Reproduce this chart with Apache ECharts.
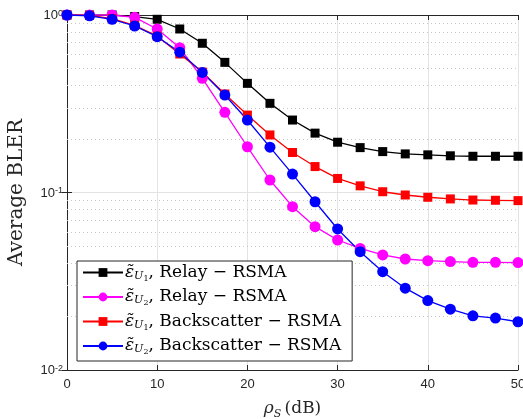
<!DOCTYPE html>
<html>
<head>
<meta charset="utf-8">
<script src="https://cdn.jsdelivr.net/npm/echarts@6/dist/echarts.min.js"></script>
<style>
  html, body { margin: 0; padding: 0; background: #fff; }
  #bler { width: 523px; height: 419px; }
</style>
</head>
<body>
<div id="bler"></div>
<script>
  // SNR points (dB)
  const rho = [0, 2.5, 5, 7.5, 10, 12.5, 15, 17.5, 20, 22.5, 25, 27.5, 30, 32.5, 35, 37.5, 40, 42.5, 45, 47.5, 50];

  // values
  const relayU1 = [1.0, 1.0, 1.0, 0.98, 0.946, 0.834, 0.693, 0.541, 0.412, 0.318, 0.256, 0.216, 0.192, 0.179, 0.170, 0.165, 0.163, 0.161, 0.160, 0.160, 0.160];
  const relayU2 = [1.0, 1.0, 1.0, 0.97, 0.834, 0.654, 0.44, 0.283, 0.181, 0.1176, 0.0832, 0.0642, 0.054, 0.0484, 0.0445, 0.0422, 0.0413, 0.0408, 0.0404, 0.0404, 0.0403];
  const backU1 = [1.0, 0.995, 0.955, 0.875, 0.76, 0.603, 0.477, 0.359, 0.273, 0.211, 0.168, 0.140, 0.120, 0.109, 0.101, 0.0968, 0.094, 0.092, 0.0907, 0.0904, 0.090];
  const backU2 = [1.0, 0.99, 0.946, 0.867, 0.755, 0.617, 0.475, 0.354, 0.256, 0.180, 0.127, 0.0887, 0.0623, 0.0464, 0.0358, 0.0289, 0.0246, 0.0220, 0.0202, 0.0196, 0.0187];

  const names = ['r1', 'r2', 'b1', 'b2'];
  const labels = {
    r1: ['1', 'Relay − RSMA'],
    r2: ['2', 'Relay − RSMA'],
    b1: ['1', 'Backscatter − RSMA'],
    b2: ['2', 'Backscatter − RSMA']
  };

  // minor log grid values
  const minorY = [0.02, 0.03, 0.04, 0.05, 0.06, 0.07, 0.08, 0.09, 0.2, 0.3, 0.4, 0.5, 0.6, 0.7, 0.8, 0.9];

  const serif = '"DejaVu Serif", "Liberation Serif", serif';
  const sans = '"Liberation Sans", Arial, sans-serif';

  function pairs(ys) {
    return rho.map((x, i) => [x, ys[i]]);
  }

  function mkSeries(name, ys, color, symbol, size) {
    return {
      name: name,
      type: 'line',
      data: pairs(ys),
      symbol: symbol,
      symbolSize: size,
      color: color,
      lineStyle: { color: color, width: 1.3 },
      itemStyle: { color: color },
      animation: false,
      z: 3
    };
  }

  let chart = echarts.init(document.getElementById('bler'));

  let series = [
    mkSeries('r1', relayU1, '#000000', 'rect', 9),
    mkSeries('r2', relayU2, '#ff00ff', 'circle', 11),
    mkSeries('b1', backU1, '#ff0000', 'rect', 9),
    mkSeries('b2', backU2, '#0000ff', 'circle', 11)
  ];
  // dotted minor grid
  series[0].markLine = {
    silent: true,
    symbol: 'none',
    label: { show: false },
    lineStyle: { color: '#c8c8c8', type: [1, 3], width: 1 },
    data: minorY.map(v => ({ yAxis: v })),
    z: 1
  };

  chart.setOption({
    animation: false,
    grid: { left: 67, right: 5, top: 15, bottom: 49, containLabel: false, outerBoundsMode: 'none' },
    legend: {
      orient: 'vertical',
      left: 77,
      top: 261,
      data: names,
      itemWidth: 40,
      itemHeight: 11,
      itemGap: 6,
      padding: [3, 11, 5, 5],
      backgroundColor: '#fff',
      borderColor: '#262626',
      borderWidth: 1,
      borderRadius: 0,
      formatter: function (n) {
        return '{e|ε̃}{u|U}{n|' + labels[n][0] + '}{t|, ' + labels[n][1] + '}';
      },
      textStyle: {
        padding: [0, 0, 0, -3],
        rich: {
          e: { fontFamily: serif, fontStyle: 'italic', fontSize: 17, lineHeight: 20, color: '#000' },
          u: { fontFamily: serif, fontStyle: 'italic', fontSize: 11, lineHeight: 11, verticalAlign: 'bottom', color: '#000', padding: [0, 0, 1, 0] },
          n: { fontFamily: serif, fontSize: 8, lineHeight: 8, verticalAlign: 'bottom', color: '#000' },
          t: { fontFamily: serif, fontSize: 17, lineHeight: 20, color: '#000' }
        }
      }
    },
    xAxis: [{
      type: 'value',
      min: 0,
      max: 50,
      interval: 10,
      axisLine: { lineStyle: { color: '#262626', width: 1 } },
      axisTick: { inside: true, length: 5, lineStyle: { color: '#262626' } },
      axisLabel: { color: '#262626', fontFamily: sans, fontSize: 13, margin: 8 },
      splitLine: { show: true, lineStyle: { color: '#e3e3e3', width: 1 } },
      name: '{i|ρ}{s|S} {t|(dB)}',
      nameLocation: 'middle',
      nameGap: 28,
      nameTextStyle: {
        rich: {
          i: { fontFamily: serif, fontStyle: 'italic', fontSize: 17, lineHeight: 22, color: '#262626' },
          s: { fontFamily: serif, fontStyle: 'italic', fontSize: 11, lineHeight: 11, verticalAlign: 'bottom', color: '#262626' },
          t: { fontFamily: serif, fontSize: 17, lineHeight: 22, color: '#262626' }
        }
      }
    }, {
      type: 'value',
      position: 'top',
      min: 0,
      max: 50,
      interval: 10,
      axisLine: { show: true, lineStyle: { color: '#262626', width: 1 } },
      axisTick: { show: true, inside: true, length: 5, lineStyle: { color: '#262626' } },
      axisLabel: { show: false },
      splitLine: { show: false }
    }],
    yAxis: [{
      type: 'log',
      logBase: 10,
      min: 0.01,
      max: 1,
      axisLine: { show: true, lineStyle: { color: '#262626', width: 1 } },
      axisTick: { show: true, inside: true, length: 5, lineStyle: { color: '#262626' } },
      axisLabel: {
        margin: 4,
        formatter: function (v) {
          let e = Math.round(Math.log10(v));
          return '{b|10}{p|' + e + '}';
        },
        rich: {
          b: { fontFamily: sans, fontSize: 13, lineHeight: 14, verticalAlign: 'bottom', padding: [6, 0, 0, 0], color: '#262626' },
          p: { fontFamily: sans, fontSize: 9, lineHeight: 9, verticalAlign: 'top', padding: [1, 0, 0, 0], color: '#262626' }
        }
      },
      splitLine: { show: true, lineStyle: { color: '#e3e3e3', width: 1 } },
      name: 'Average BLER',
      nameLocation: 'middle',
      nameGap: 40,
      nameTextStyle: { fontFamily: serif, fontSize: 20, color: '#262626' }
    }, {
      type: 'log',
      logBase: 10,
      min: 0.01,
      max: 1,
      position: 'right',
      axisLine: { show: true, lineStyle: { color: '#262626', width: 1 } },
      axisTick: { show: true, inside: true, length: 5, lineStyle: { color: '#262626' } },
      axisLabel: { show: false },
      splitLine: { show: false }
    }],
    series: series
  });

  window.addEventListener('resize', () => {
    chart.resize();
  });
</script>
</body>
</html>
